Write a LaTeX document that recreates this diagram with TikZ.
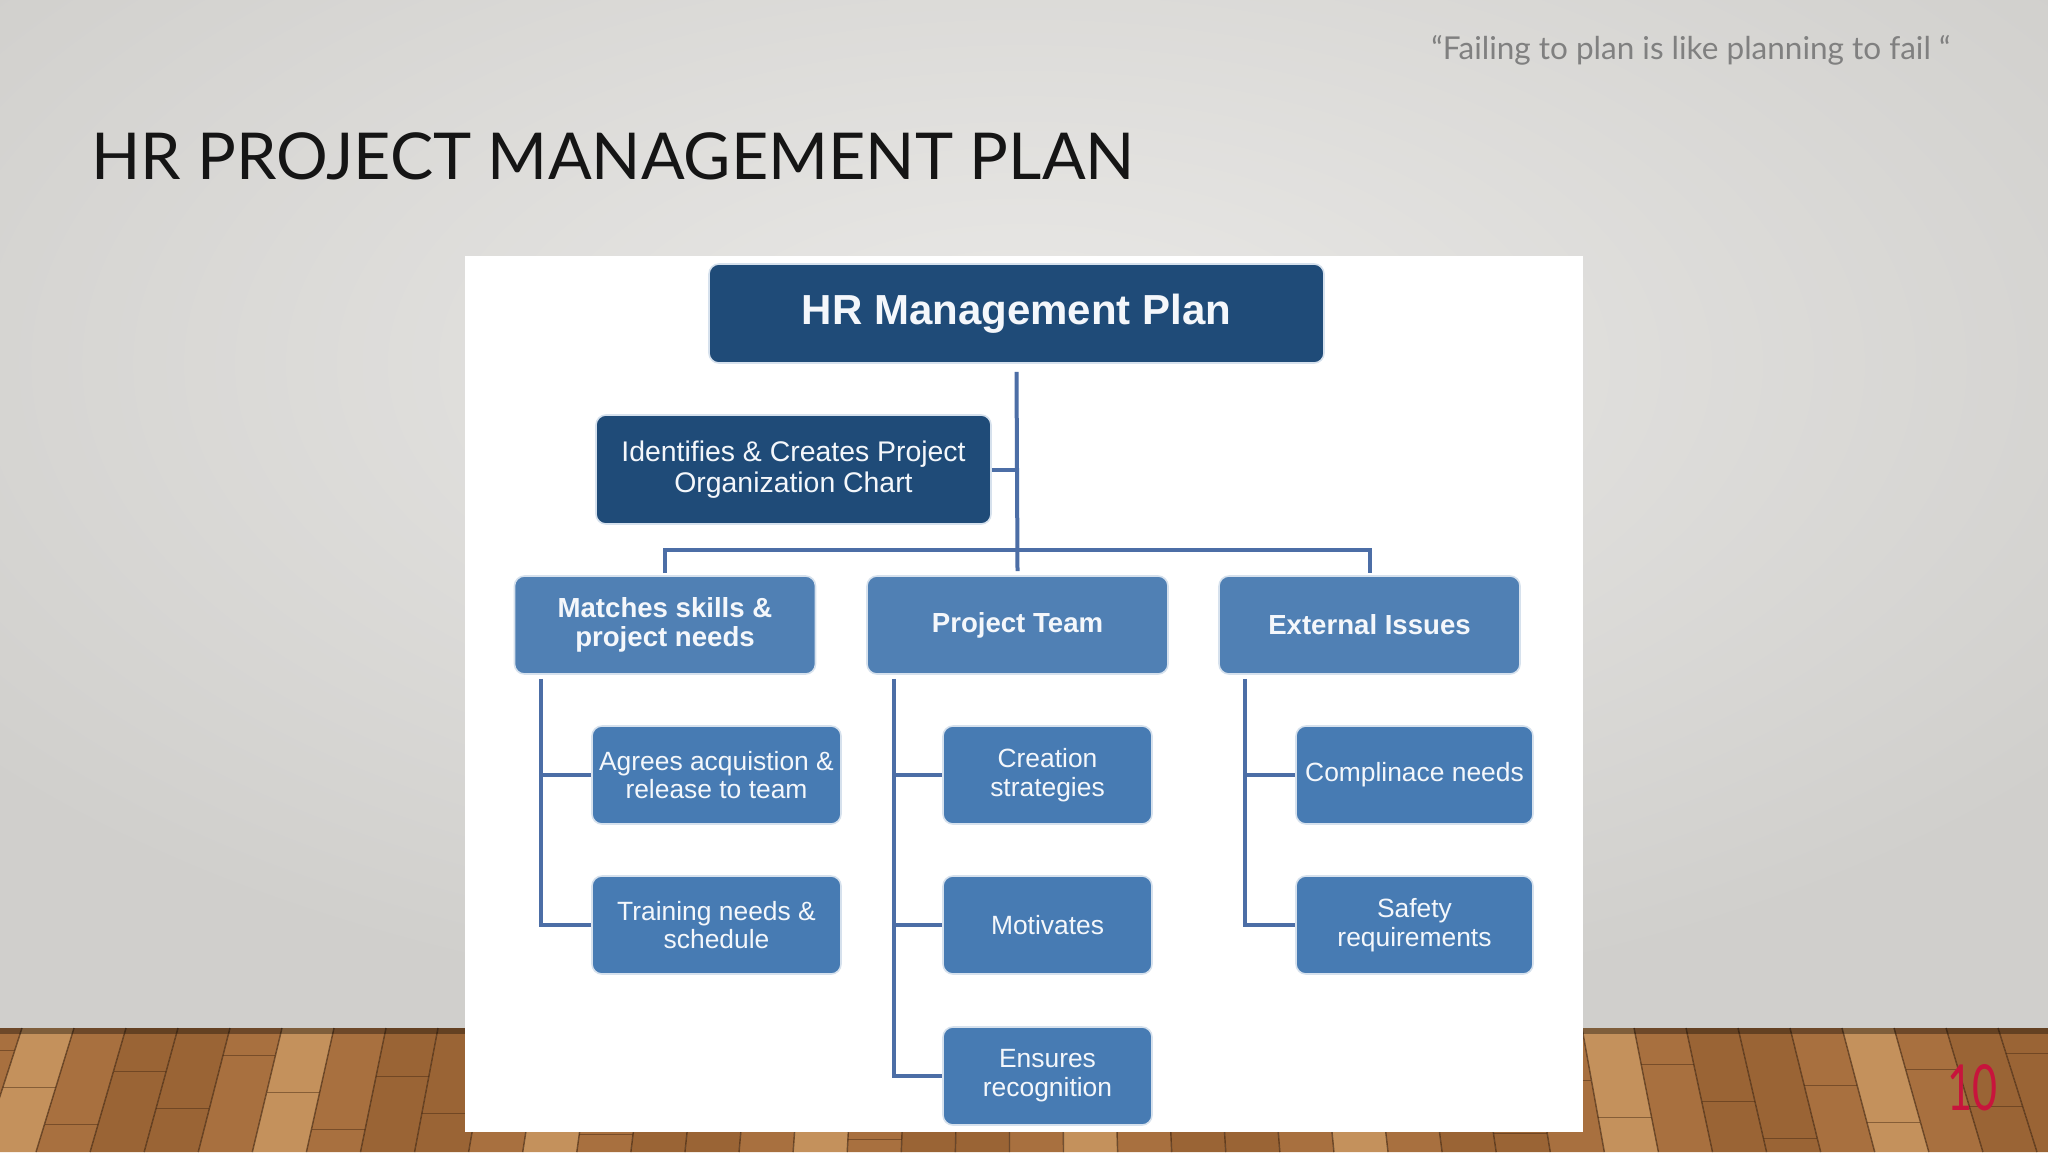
\documentclass[tikz,border=0pt]{standalone}
\usepackage{fontspec}
\usepackage{graphicx}
\setmainfont{Liberation Sans}
\newfontfamily\gillfont{Lato}
\usetikzlibrary{calc}
\definecolor{navy}{HTML}{1F4B78}
\definecolor{midblue}{HTML}{5080B4}
\definecolor{boxblue}{HTML}{477BB3}
\definecolor{linkblue}{HTML}{4C6EA6}
\definecolor{boxtext}{HTML}{F4F7FB}
\definecolor{glow}{HTML}{D6E1ED}
\definecolor{wallin}{HTML}{EAE9E7}
\definecolor{wallout}{HTML}{D0CFCC}
\definecolor{quotegrey}{HTML}{808080}
\definecolor{titleblack}{HTML}{151515}
\definecolor{pagered}{HTML}{C8143C}
\definecolor{woodc0}{HTML}{A8703F}
\definecolor{woodc1}{HTML}{8E5A2E}
\definecolor{woodc2}{HTML}{B9814C}
\definecolor{woodc3}{HTML}{9A6435}
\definecolor{woodc4}{HTML}{C4915C}
\definecolor{wooddark}{HTML}{4A2C14}
\begin{document}
\begin{tikzpicture}[x=0.5pt,y=-0.5pt,
  hrbox/.style={rounded corners=5pt, inner sep=0pt, align=center, text=boxtext, draw=glow, line width=0.8pt},
  topbox/.style={hrbox, fill=navy, minimum width=307.5pt, minimum height=49.5pt, font=\bfseries\fontsize{21}{24}\selectfont},
  idbox/.style={hrbox, fill=navy, minimum width=197.5pt, minimum height=54.5pt, font=\fontsize{14.2}{15.7}\selectfont},
  midbox/.style={hrbox, fill=midblue, minimum width=150.5pt, minimum height=49pt, font=\bfseries\fontsize{13.8}{14.6}\selectfont},
  leafbox/.style={hrbox, fill=boxblue, minimum height=49pt, font=\fontsize{13.2}{14.4}\selectfont},
  link/.style={draw=linkblue, line width=2pt}
]
\useasboundingbox (0,0) rectangle (2048,1152);
% wall
\shade[inner color=wallin, outer color=wallout] (-300,-300) rectangle (2348,1028);
% wood floor
\foreach \i in {0,...,41} {
  \pgfmathsetmacro\xa{\i*52-30}
  \pgfmathsetmacro\xb{\xa+52}
  \pgfmathtruncatemacro\k{mod(\i*3+\i*\i,5)}
  \pgfmathsetmacro\jy{1050+mod(\i*37,90)}
  \fill[woodc\k] (\xa,1028) -- (\xb,1028) -- ({1024+(\xb-1024)*1.04},1152) -- ({1024+(\xa-1024)*1.04},1152) -- cycle;
  \draw[wooddark, line width=0.7pt, opacity=0.7] (\xa,1028) -- ({1024+(\xa-1024)*1.04},1152);
  \draw[wooddark, line width=0.5pt, opacity=0.5] ({1024+(\xa-1024)*(1+0.04*(\jy-1028)/124)},\jy) -- ({1024+(\xb-1024)*(1+0.04*(\jy-1028)/124)},\jy);
}
\fill[black, opacity=0.35] (0,1028) rectangle (2048,1034);
% white panel
\fill[white] (465,256) rectangle (1583,1132);
% texts on slide
\node[anchor=base west, inner sep=0pt, text=titleblack] (title) at (91,179)
  {\resizebox{521.5pt}{!}{\gillfont HR PROJECT MANAGEMENT PLAN}};
\node[anchor=base west, inner sep=0pt, text=quotegrey] (quote) at (1431,59)
  {\resizebox{259.5pt}{!}{\gillfont “Failing to plan is like planning to fail “}};
\node[anchor=base, inner sep=0pt, text=pagered] (pagenum) at (1972,1110)
  {\resizebox{25pt}{23pt}{\gillfont 10}};
% nodes
\node[topbox] (top) at (1016.5,313.5) {HR Management Plan};
\node[idbox] (id) at (793.5,469.5) {Identifies \& Creates Project\\Organization Chart};
\node[midbox] (m) at (665,625) {Matches skills \&\\project needs};
\node[midbox] (pt) at (1017.5,625) {Project Team};
\node[midbox] (e) at (1369.5,625) {External Issues};
\node[leafbox, minimum width=124.5pt] (a1) at (716.5,775) {Agrees acquistion \&\\release to team};
\node[leafbox, minimum width=124.5pt] (a2) at (716.5,925) {Training needs \&\\schedule};
\node[leafbox, minimum width=104.5pt] (c1) at (1047.5,775) {Creation\\strategies};
\node[leafbox, minimum width=104.5pt] (c2) at (1047.5,925) {Motivates};
\node[leafbox, minimum width=104.5pt] (c3) at (1047.5,1076) {Ensures\\recognition};
\node[leafbox, minimum width=118.5pt] (e1) at (1414.5,775) {Complinace needs};
\node[leafbox, minimum width=118.5pt] (e2) at (1414.5,925) {Safety\\requirements};
% connectors
\coordinate (bus) at (top.south |- 0,550);
\draw[link] ([yshift=-4pt]top.south) -- ([yshift=2pt]pt.north);
\draw[link] (id.east) -- (id.east -| top.south);
\draw[link] ([yshift=1pt]m.north) |- (bus) -| ([yshift=1pt]e.north);
\coordinate (t1) at ($(m.south west)+(27,4)$);
\coordinate (t2) at ($(pt.south west)+(28,4)$);
\coordinate (t3) at ($(e.south west)+(27,4)$);
\draw[link] (t1) |- (a2.west);
\draw[link] (t1 |- a1.west) -- (a1.west);
\draw[link] (t2) |- (c3.west);
\draw[link] (t2 |- c1.west) -- (c1.west);
\draw[link] (t2 |- c2.west) -- (c2.west);
\draw[link] (t3) |- (e2.west);
\draw[link] (t3 |- e1.west) -- (e1.west);
\end{tikzpicture}
\end{document}
